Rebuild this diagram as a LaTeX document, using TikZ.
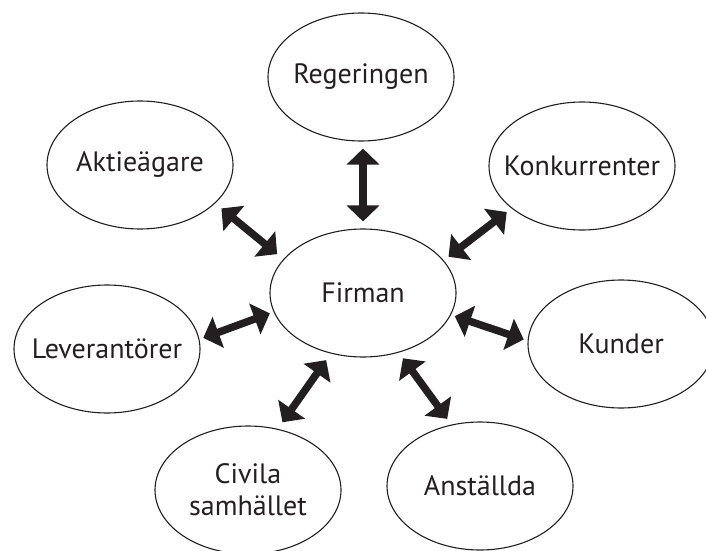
\documentclass[tikz,border=0pt]{standalone}
\usepackage{fontspec}
\setmainfont{PT Sans}
\usetikzlibrary{arrows.meta, shapes.geometric, calc}
\definecolor{ink}{HTML}{231F20}
\tikzset{
  party/.style={ellipse, draw=ink, line width=1.1pt, minimum width=186pt,
    minimum height=128pt, inner xsep=-16pt, inner ysep=0pt, align=center,
    text=ink, font=\fontsize{28}{32}\selectfont},
  link/.style={{Triangle[length=16pt, width=32pt]}-{Triangle[length=16pt, width=32pt]},
    line width=7.5pt, ink, shorten <=6pt, shorten >=6pt},
}
\begin{document}
\begin{tikzpicture}[x=1pt, y=1pt]
\useasboundingbox (0,0) rectangle (706,550);
% firm in the middle, stakeholders round it
\node[party] (firman) at (363,257) {Firman};
\node[party] (regering) at (361,473) {Regeringen};
\node[party] (aktie) at (140,385) {Aktieägare};
\node[party] (konkurr) at (582,384) {Konkurrenter};
\node[party] (lev) at (107,201) {Leverantörer};
\node[party] (kunder) at (621,206) {Kunder};
\node[party] (civila) at (248,60) {Civila\\samhället};
\node[party] (anst) at (480,64) {Anställda};
% two-way links
\draw[link, shorten <=7pt, shorten >=7pt] (firman.north) -- (firman.north |- regering.south);
\draw[link, shorten <=8pt, shorten >=8pt] (firman.157) -- (aktie.-27);
\draw[link] (firman.22) -- (konkurr.-149);
\draw[link, shorten <=4pt, shorten >=4pt] (firman.192) -- (lev.6);
\draw[link, shorten <=4pt, shorten >=4pt] (firman.-14) -- (kunder.178);
\draw[link, shorten <=8pt, shorten >=8pt] (firman.-118) -- (civila.64);
\draw[link, shorten <=7pt, shorten >=7pt] (firman.-59) -- (anst.115);
\end{tikzpicture}
\end{document}
